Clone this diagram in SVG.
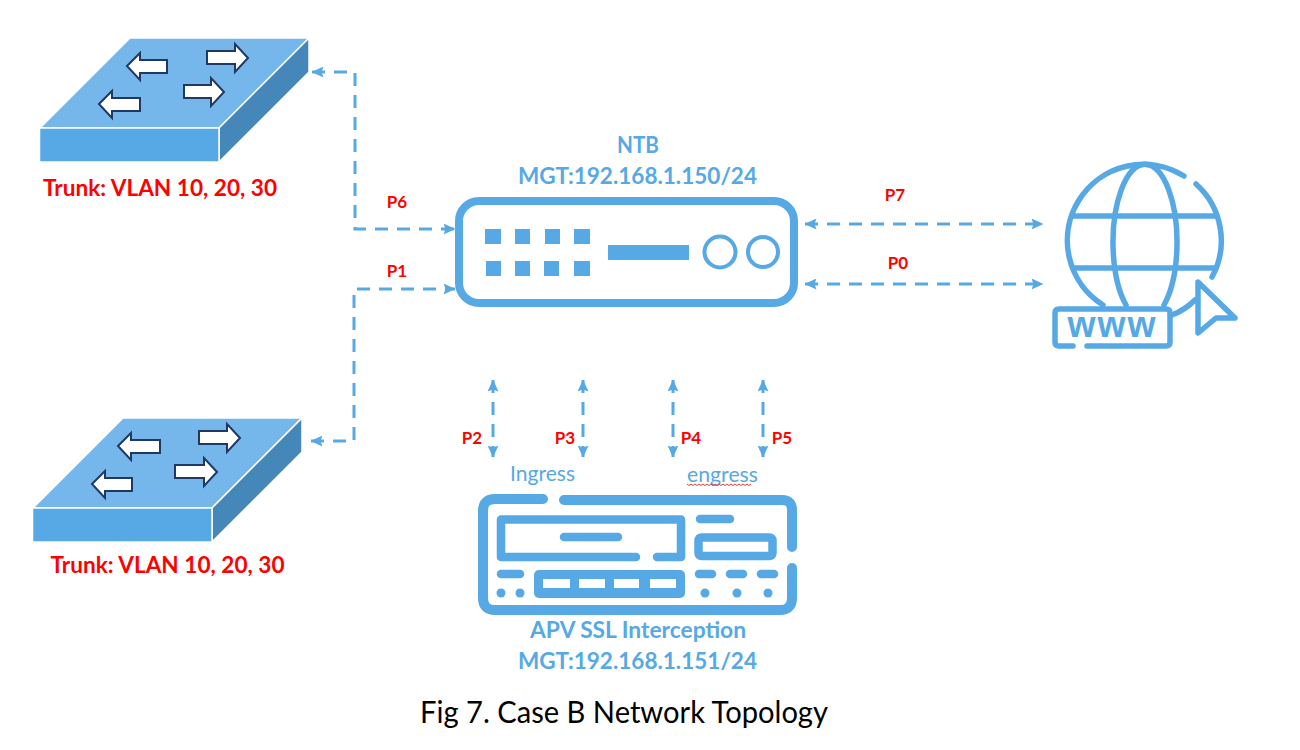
<svg xmlns="http://www.w3.org/2000/svg" width="1300" height="750" viewBox="0 0 1300 750">
<defs>
<marker id="ah" viewBox="0 0 12 11" refX="11.500" refY="5.500" markerWidth="12" markerHeight="11" markerUnits="userSpaceOnUse" orient="auto-start-reverse"><path d="M0 0L12 5.500L0 11L2 5.500Z" fill="#56A9E4"/></marker>
</defs>
<style>
text{font-family:Lato,"Liberation Sans",sans-serif}
.blue{fill:#56A9E4}
.lab{fill:#56A9E4;font-size:23px;text-anchor:middle;font-weight:700}
.ig{fill:#56A9E4;font-size:21px;text-anchor:middle}
.red{fill:#FF0000;font-weight:700;text-anchor:middle}
.trunk{font-size:23px}
.port{font-size:17px}
.conn{fill:none;stroke:#56A9E4;stroke-width:3;stroke-dasharray:13 9;marker-start:url(#ah);marker-end:url(#ah)}
.top{fill:#75B7EA;stroke:#fff;stroke-width:1.5}
.front{fill:#56A9E4;stroke:#fff;stroke-width:1.5}
.side{fill:#4587B8;stroke:#fff;stroke-width:1.5}
.ar{fill:#fff;stroke:#1F3864;stroke-width:2}
.ln{fill:none;stroke:#56A9E4;stroke-linecap:round;stroke-linejoin:round}
.w10{stroke-width:10}.w8{stroke-width:8.5}.w5{stroke-width:5.500}
.sq{fill:#56A9E4}
</style>

<g id="connectors">
<path class="conn" d="M312 72H355V229H455"/>
<path class="conn" d="M311 441H354V289H455"/>
<path class="conn" d="M805 224H1043"/>
<path class="conn" d="M805 284H1043"/>
<path class="conn" d="M493 380V457"/>
<path class="conn" d="M583 380V457"/>
<path class="conn" d="M673 380V457"/>
<path class="conn" d="M763 380V457"/>
</g>

<g id="switch-top">
<path class="top" d="M40 128L130 38H309L219 128Z"/>
<path class="side" d="M219 128L309 38V72L219 162Z"/>
<rect class="front" x="39.500" y="128" width="179.500" height="34"/>
<path class="ar" d="M127 66L140 53V60H167V73H140V80Z"/>
<path class="ar" d="M248 58L235 44V51H207V64H235V72Z"/>
<path class="ar" d="M224 92L211 78V85H184V98H211V106Z"/>
<path class="ar" d="M99 104L112 91V98H140V111H112V118Z"/>
<text class="red trunk" x="160" y="196" textLength="234" lengthAdjust="spacingAndGlyphs">Trunk: VLAN 10, 20, 30</text>
</g>

<g id="switch-bottom">
<path class="top" d="M33 508L123 418H302L212 508Z"/>
<path class="side" d="M212 508L302 418V452L212 542Z"/>
<rect class="front" x="32.500" y="508" width="179.500" height="34"/>
<path class="ar" d="M118 446L131 433V440H160V453H131V460Z"/>
<path class="ar" d="M240 438L227 424V431H199V444H227V452Z"/>
<path class="ar" d="M217 472L204 458V465H175V478H204V486Z"/>
<path class="ar" d="M92 484L105 471V478H132V491H105V498Z"/>
<text class="red trunk" x="167.500" y="573" textLength="234" lengthAdjust="spacingAndGlyphs">Trunk: VLAN 10, 20, 30</text>
</g>

<g id="ntb">
<rect x="459" y="201" width="335" height="102" rx="20" fill="#fff" stroke="#56A9E4" stroke-width="8"/>
<rect class="sq" x="485" y="229" width="16" height="15"/>
<rect class="sq" x="515" y="229" width="15" height="15"/>
<rect class="sq" x="545" y="229" width="15" height="15"/>
<rect class="sq" x="574" y="229" width="16" height="15"/>
<rect class="sq" x="486" y="261" width="15" height="15"/>
<rect class="sq" x="515" y="261" width="15" height="15"/>
<rect class="sq" x="544" y="261" width="15" height="15"/>
<rect class="sq" x="574" y="261" width="16" height="15"/>
<rect class="sq" x="608" y="245" width="81" height="15"/>
<circle cx="720" cy="252" r="15.500" fill="none" stroke="#56A9E4" stroke-width="4"/>
<circle cx="763" cy="252" r="15" fill="none" stroke="#56A9E4" stroke-width="4"/>
<text class="lab" x="638" y="153" textLength="42" lengthAdjust="spacingAndGlyphs">NTB</text>
<text class="lab" x="637.500" y="184" textLength="239" lengthAdjust="spacingAndGlyphs">MGT:192.168.1.150/24</text>
</g>

<g id="www">
<g class="ln w5">
<path d="M1184 176A76 76 0 1 0 1103 305"/>
<path d="M1196 184A76 76 0 0 1 1212 277"/>
<path d="M1172 315Q1185 310 1195 300"/>
<path d="M1126 305A32 78 0 1 1 1164 305"/>
<path d="M1073 216H1217M1073 268H1216"/>
<path d="M1073 346H1059Q1055 346 1055 342V313Q1055 309 1059 309H1166Q1170 309 1170 313V342Q1170 346 1166 346H1087"/>
<path d="M1198 282L1235 318L1216 318L1198 333Z" fill="#fff"/>
</g>
<text x="1112.500" y="337" text-anchor="middle" letter-spacing="2" style="font-family:'Liberation Sans',sans-serif;font-weight:700;font-size:36px" fill="#56A9E4">www</text>
</g>

<g id="apv">
<g class="ln w10">
<path d="M543 499H495Q483 499 483 511V598Q483 610 495 610H780Q792 610 792 598V568"/>
<path d="M564 500H782Q792 500 792 510V547"/>
</g>
<g class="ln w8">
<path d="M636 557H501V519.500H681V557H657"/>
<path d="M564 537H618M700 519H730"/>
<rect x="698.500" y="537.500" width="74" height="18.500" rx="3"/>
<path d="M501 574H520M699 574H712M730 574H743M761 574H774"/>
</g>
<rect class="sq" x="534" y="570" width="151" height="28" rx="5"/>
<g fill="#fff"><rect x="543" y="579" width="27" height="9"/><rect x="579" y="579" width="26" height="9"/><rect x="614" y="579" width="25" height="9"/><rect x="650" y="579" width="26" height="9"/></g>
<g class="sq"><circle cx="501" cy="593" r="4.500"/><circle cx="520" cy="593" r="4.500"/><circle cx="705" cy="593" r="4.500"/><circle cx="737" cy="593" r="4.500"/><circle cx="768" cy="593" r="4.500"/></g>
<text class="lab" x="638" y="638" textLength="216" lengthAdjust="spacingAndGlyphs">APV SSL Interception</text>
<text class="lab" x="637.500" y="669" textLength="239" lengthAdjust="spacingAndGlyphs">MGT:192.168.1.151/24</text>
</g>

<g id="labels">
<text class="ig" x="542.500" y="481" textLength="65" lengthAdjust="spacingAndGlyphs">Ingress</text>
<text class="ig" x="722.500" y="482" textLength="71" lengthAdjust="spacingAndGlyphs">engress</text>
<path d="M687 484l2 1.500 2-1.500 2 1.500 2-1.500 2 1.500 2-1.500 2 1.500 2-1.500 2 1.500 2-1.500 2 1.500 2-1.500 2 1.500 2-1.500 2 1.500 2-1.500 2 1.500 2-1.500 2 1.500 2-1.500 2 1.500 2-1.500 2 1.500 2-1.500 2 1.500 2-1.500 2 1.500 2-1.500 2 1.500 2-1.500 2 1.500 2-1.500" fill="none" stroke="#E0403C" stroke-width="1"/>
<text class="red port" x="397" y="208">P6</text>
<text class="red port" x="397" y="277">P1</text>
<text class="red port" x="895" y="201">P7</text>
<text class="red port" x="898" y="269">P0</text>
<text class="red port" x="472" y="444">P2</text>
<text class="red port" x="565" y="444">P3</text>
<text class="red port" x="691" y="444">P4</text>
<text class="red port" x="782" y="444">P5</text>
<text x="624" y="723" text-anchor="middle" font-size="30" fill="#000" textLength="408" lengthAdjust="spacingAndGlyphs">Fig 7. Case B Network Topology</text>
</g>
</svg>
